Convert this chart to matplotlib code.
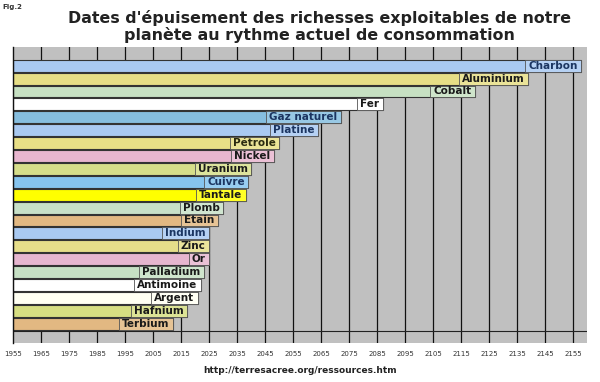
import matplotlib.pyplot as plt
from matplotlib.patches import Rectangle
from matplotlib.colors import to_rgb

# data (year of exhaustion)
resources = ["Charbon", "Aluminium", "Cobalt", "Fer", "Gaz naturel", "Platine",
             "Pétrole", "Nickel", "Uranium", "Cuivre", "Tantale", "Plomb",
             "Etain", "Indium", "Zinc", "Or", "Palladium", "Antimoine",
             "Argent", "Hafnium", "Terbium"]
years = [2158, 2139, 2120, 2087, 2072, 2064,
         2050, 2048, 2040, 2039, 2038, 2030,
         2028, 2025, 2025, 2025, 2023, 2022,
         2021, 2017, 2012]
bar_colors = ["#a9c9f1", "#e6de86", "#c6e0c2", "#ffffff", "#86bedf", "#a9c9f1",
              "#e8df86", "#e8b6cf", "#d6de8a", "#86c4ee", "#ffff00", "#c8e0c8",
              "#e2b882", "#a9c9f1", "#e6de8a", "#e6b6cf", "#c6e0c4", "#ffffff",
              "#fffff2", "#d6de82", "#e2b882"]
text_colors = ["#1b3561", "#1a1a1a", "#1a1a1a", "#1a1a1a", "#1b3561", "#1b3561",
               "#2a2a10", "#1a1a1a", "#1a1a1a", "#1b3561", "#1a1a1a", "#1a1a1a",
               "#1a1a1a", "#1b3561", "#1a1a1a", "#1a1a1a", "#1a1a1a", "#1a1a1a",
               "#1a1a1a", "#1a1a1a", "#1a1a1a"]
tick_years = list(range(1955, 2156, 10))

x0 = 1955
fig = plt.figure(figsize=(6.0, 3.82), dpi=100)
ax = fig.add_axes([0.0222, 0.102, 0.956, 0.775])
ax.set_facecolor("#c0c0c0")

ypos = list(range(len(resources)))
h = 0.92
for t in tick_years[1:]:
    ax.axvline(t, color="#111111", lw=0.9, zorder=1)
ax.barh(ypos, [y - x0 for y in years], left=x0, height=h, color=bar_colors,
        edgecolor="#333333", linewidth=0.8, zorder=2)
ax.axhline(len(resources) - 0.5 + 0.03, color="#222222", lw=0.8, zorder=1)

ax.set_xlim(1955, 2160)
ax.set_ylim(len(resources) + 0.5, -1.45)
ax.set_yticks([])
ax.set_xticks(tick_years)
ax.set_xticklabels([str(t) for t in tick_years], fontsize=5, color="#333333")
ax.tick_params(axis="x", length=0, pad=6)
for s in ["top", "right", "bottom"]:
    ax.spines[s].set_visible(False)
ax.spines["left"].set_color("#111111")
ax.spines["left"].set_linewidth(1.0)

# labels with a little box at the end of each bar
fig.canvas.draw()
r = fig.canvas.get_renderer()
inv = ax.transData.inverted()
for i, (name, yr) in enumerate(zip(resources, years)):
    txt = ax.annotate(name, (yr, i), xytext=(-2.5, 0), textcoords="offset points",
                      ha="right", va="center", fontsize=7.5, fontweight="bold",
                      color=text_colors[i], zorder=4)
    bb = txt.get_window_extent(renderer=r)
    left = inv.transform((bb.x0 - 3, 0))[0]
    c = to_rgb(bar_colors[i])
    light = tuple(v + (1 - v) * 0.15 for v in c)
    ax.add_patch(Rectangle((left, i - h / 2), yr - left, h, facecolor=light,
                           edgecolor="#555555", linewidth=0.6, zorder=3))

fig.text(0.533, 0.975, "Dates d'épuisement des richesses exploitables de notre\n"
         "planète au rythme actuel de consommation", ha="center", va="top",
         fontsize=11.4, fontweight="bold", color="#222222", linespacing=1.1)
fig.text(0.004, 0.99, "Fig.2", ha="left", va="top", fontsize=5,
         fontweight="bold", color="#333333")
fig.text(0.5, 0.03, "http://terresacree.org/ressources.htm", ha="center",
         va="center", fontsize=6.5, fontweight="bold", color="#222222")

fig.savefig("out.png", dpi=100)
